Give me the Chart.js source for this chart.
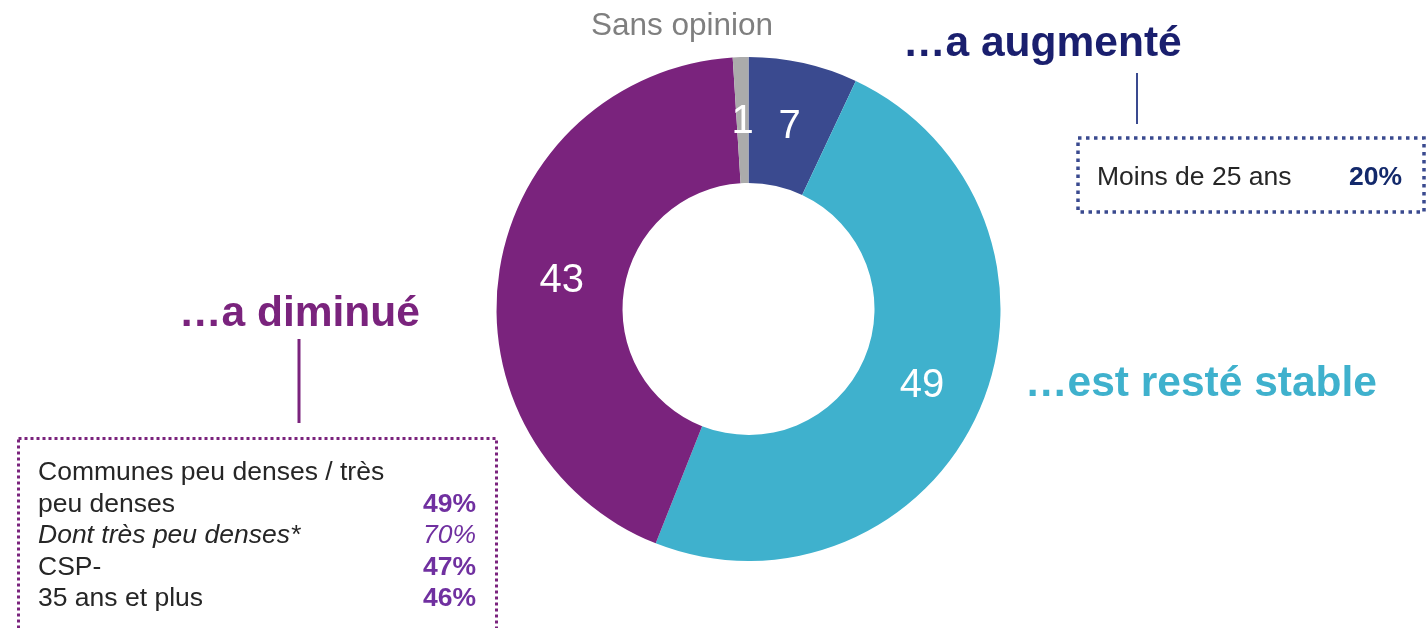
<!DOCTYPE html>
<html lang="fr">
<head>
<meta charset="utf-8">
<script src="https://cdn.jsdelivr.net/npm/chart.js@4/dist/chart.umd.min.js"></script>
<style>
  html, body { margin: 0; padding: 0; background: #fff; }
  body { width: 1427px; height: 628px; position: relative; overflow: hidden;
         font-family: "Liberation Sans", Arial, sans-serif; }
  #wrap { position: absolute; left: 0; top: 0; width: 1427px; height: 628px; }
  .lbl { position: absolute; line-height: 1; white-space: nowrap; }
  .head { font-size: 42.5px; font-weight: bold; }
  .box { position: absolute; font-size: 26.5px; color: #262626; line-height: 31.6px; }
  .row { display: flex; justify-content: space-between; white-space: nowrap; }
  .pct { font-weight: bold; color: #7030a0; }
</style>
</head>
<body>
<div id="wrap"><canvas id="donut" width="1427" height="628"></canvas></div>

<div class="lbl" style="left:591px;top:9px;font-size:31.5px;color:#7f7f7f;">Sans opinion</div>
<div class="lbl head" style="left:903px;top:21px;color:#1a1f6e;">…a augmenté</div>
<div class="lbl head" style="left:1025px;top:361px;color:#3fb1cd;">…est resté stable</div>
<div class="lbl head" style="left:179px;top:291px;color:#7a237d;">…a diminué</div>

<div class="box" id="boxUp" style="left:1097px;top:161px;width:305px;"></div>
<div class="box" id="boxDown" style="left:38px;top:456px;width:438px;"></div>

<script>
const categories = ["…a augmenté", "…est resté stable", "…a diminué", "Sans opinion"];
const values     = [7, 49, 43, 1];
const colors     = ["#3a4a8f", "#3fb1cd", "#7a237d", "#ababab"];

const upGroups   = ["Moins de 25 ans"];
const upValues   = ["20%"];

const downGroups = ["Communes peu denses / très\npeu denses", "Dont très peu denses*", "CSP-", "35 ans et plus"];
const downValues = ["49%", "70%", "47%", "46%"];

/* Sub-group boxes */
document.getElementById("boxUp").innerHTML = upGroups.map((g, i) =>
    `<div class="row"><span>${g}</span><span class="pct" style="color:#13296b">${upValues[i]}</span></div>`).join("");

document.getElementById("boxDown").innerHTML = downGroups.map((g, i) => {
    const lines  = g.split("\n");
    const italic = g.startsWith("Dont");
    const st     = italic ? "font-style:italic;" : "";
    const pst    = italic ? "font-style:italic;font-weight:normal;" : "";
    let html = "";
    lines.forEach((l, j) => {
        const last = j === lines.length - 1;
        html += `<div class="row"><span style="${st}">${l}</span>` +
                (last ? `<span class="pct" style="${pst}">${downValues[i]}</span>` : "") + `</div>`;
    });
    return html;
}).join("");

/* Values inside slices */
const sliceLabels = {
    id: "sliceLabels",
    afterDatasetsDraw(chart) {
        const ctx = chart.ctx;
        const meta = chart.getDatasetMeta(0);
        ctx.save();
        ctx.fillStyle = "#fff";
        ctx.font = '40px "Liberation Sans", Arial, sans-serif';
        ctx.textAlign = "center";
        ctx.textBaseline = "middle";
        meta.data.forEach((arc, i) => {
            const p = arc.tooltipPosition();
            ctx.fillText(String(values[i]), p.x, p.y + 2);
        });
        ctx.restore();
    }
};

/* Connectors and dotted boxes */
const decor = {
    id: "decor",
    afterDraw(chart) {
        const ctx = chart.ctx;
        ctx.save();
        // right connector + box
        ctx.strokeStyle = "#3a4a8f";
        ctx.lineWidth = 2;
        ctx.beginPath(); ctx.moveTo(1137, 73); ctx.lineTo(1137, 124); ctx.stroke();
        ctx.lineWidth = 3.5;
        ctx.setLineDash([3.5, 4.5]);
        ctx.strokeRect(1078, 138, 346, 74);
        // left connector + box
        ctx.setLineDash([]);
        ctx.strokeStyle = "#7a237d";
        ctx.lineWidth = 3;
        ctx.beginPath(); ctx.moveTo(299, 339); ctx.lineTo(299, 423); ctx.stroke();
        ctx.setLineDash([3, 3]);
        ctx.strokeRect(18.5, 438.5, 478, 220);
        ctx.restore();
    }
};

new Chart(document.getElementById("donut"), {
    type: "doughnut",
    data: {
        labels: categories,
        datasets: [{
            data: values,
            backgroundColor: colors,
            borderWidth: 0,
        }]
    },
    options: {
        responsive: false,
        animation: false,
        cutout: "50%",
        layout: { padding: { left: 496, right: 426, top: 57, bottom: 67 } },
        plugins: { legend: { display: false }, tooltip: { enabled: false } }
    },
    plugins: [sliceLabels, decor]
});
</script>
</body>
</html>
